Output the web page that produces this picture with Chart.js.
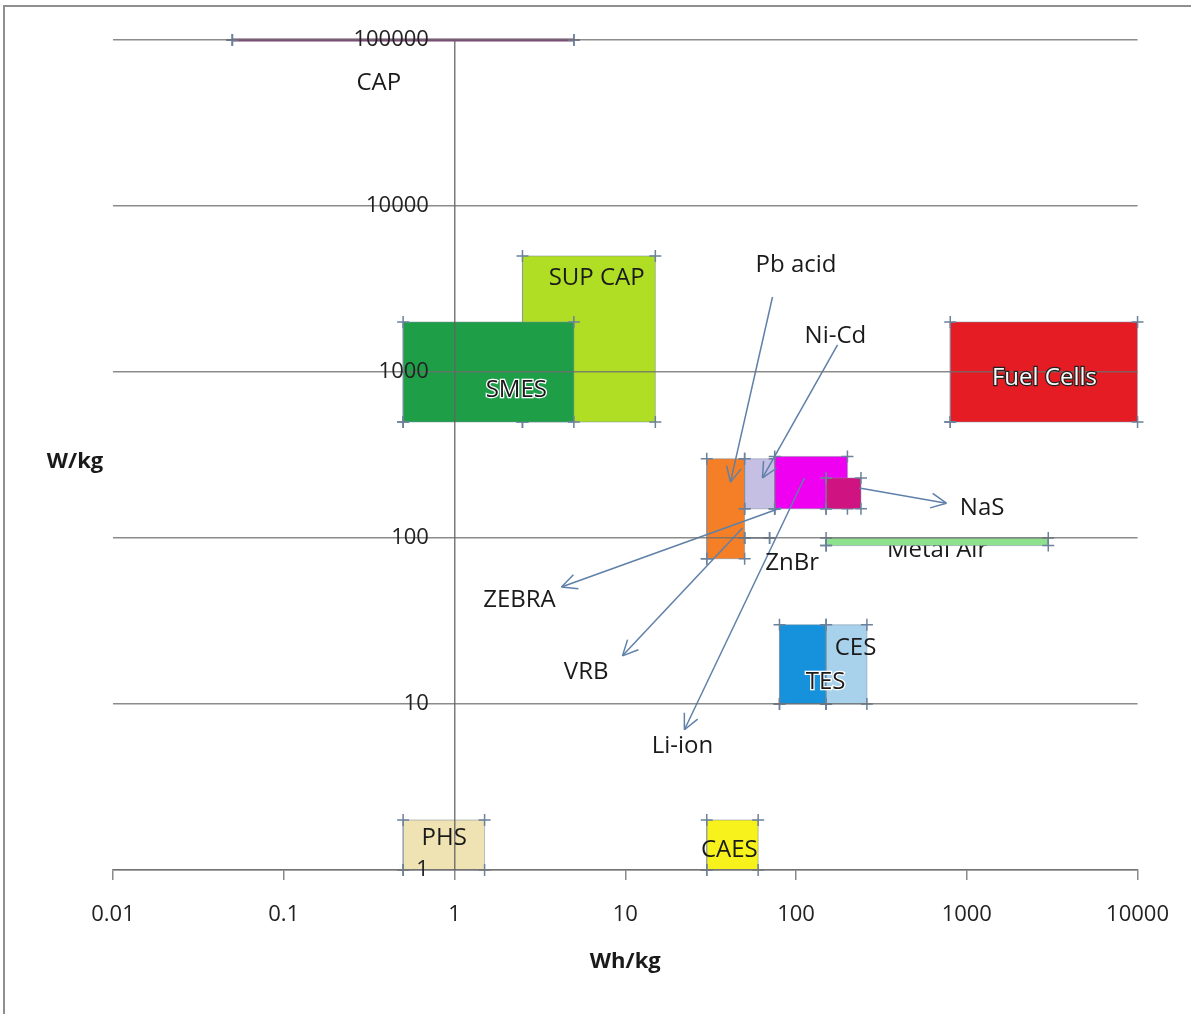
<!DOCTYPE html>
<html>
<head>
<meta charset="utf-8">
<title>Ragone chart</title>
<script src="https://cdn.jsdelivr.net/npm/chart.js@4.4.1/dist/chart.umd.min.js"></script>
<style>
  html, body { margin: 0; padding: 0; background: #fff; }
  .wrap { position: relative; width: 1191px; height: 1014px; overflow: hidden; }
  .frame {
    position: absolute; left: 3px; top: 5px; right: -6px; bottom: -6px;
    border-left: 2px solid #8f8f8f; border-top: 2px solid #8f8f8f;
    pointer-events: none;
  }
</style>
</head>
<body>
<div class="wrap">
  <canvas id="chart1"></canvas>
  <div class="frame"></div>
</div>
<script>
// Storage technologies: energy density (Wh/kg) against power density (W/kg)
const techNames = ['CAP', 'SUP CAP', 'SMES', 'Fuel Cells', 'Pb acid', 'Ni-Cd', 'Li-ion',
  'NaS', 'ZnBr', 'Metal Air', 'TES', 'CES', 'PHS', 'CAES'];
const energyLow = [0.05, 2.5, 0.5, 800, 30, 50, 75, 150, 50, 150, 80, 150, 0.5, 30];
const energyHigh = [5, 15, 5, 10000, 50, 75, 200, 240, 70, 3000, 150, 260, 1.5, 60];
const powerLow = [100000, 500, 500, 500, 75, 150, 150, 150, 100, 90, 10, 10, 1, 1];
const powerHigh = [100000, 5000, 2000, 2000, 300, 300, 310, 230, 100, 100, 30, 30, 2, 2];

const xTicks = [0.01, 0.1, 1, 10, 100, 1000, 10000];
const yTicks = [1, 10, 100, 1000, 10000, 100000];

// callout arrows (tail -> head), in Wh/kg, W/kg
const arrowNames = ['Pb acid', 'Ni-Cd', 'NaS', 'ZEBRA', 'VRB', 'Li-ion'];
const arrowTail = [[72.8, 2830], [175, 1455], [235, 200], [82, 152], [48.6, 115], [112, 230]];
const arrowHead = [[41.3, 217], [63.6, 230], [760, 162], [4.23, 50.7], [9.63, 19.5], [22.2, 7.0]];

// fill colours, same order as techNames
const fillColors = ['#7d3f76', '#b0de24', '#1f9e48', '#e61c24', '#f57f26', '#c6bfe4', '#f000f0',
  '#cf1380', '#7d8ea3', '#8ee28e', '#1692dc', '#a8d2ec', '#efe2b3', '#f7f21c'];

// where each name is written
const labelSpots = [
  { text: 'CAP', x: 0.36, y: 55000 },
  { text: 'SUP CAP', x: 6.8, y: 3700 },
  { text: 'SMES', x: 2.3, y: 780, halo: '#fff' },
  { text: 'Fuel Cells', x: 2850, y: 920, color: '#fafafa', halo: '#222' },
  { text: 'Pb acid', x: 100, y: 4400 },
  { text: 'Ni-Cd', x: 170, y: 1650 },
  { text: 'NaS', x: 1230, y: 152 },
  { text: 'Metal Air', x: 670, y: 85, behind: true },
  { text: 'ZnBr', x: 95, y: 71 },
  { text: 'ZEBRA', x: 2.4, y: 42 },
  { text: 'VRB', x: 5.9, y: 15.6 },
  { text: 'Li-ion', x: 21.6, y: 5.6 },
  { text: 'CES', x: 223, y: 21.7 },
  { text: 'TES', x: 149, y: 13.6, halo: '#fff' },
  { text: 'PHS', x: 0.87, y: 1.56 },
  { text: 'CAES', x: 40.7, y: 1.32 },
];

const boxSets = techNames.map((name, i) => {
  const flat = powerLow[i] === powerHigh[i];
  return {
    label: name,
    data: [
      { x: energyLow[i], y: powerLow[i] },
      { x: energyHigh[i], y: powerLow[i] },
      { x: energyHigh[i], y: powerHigh[i] },
      { x: energyLow[i], y: powerHigh[i] },
      { x: energyLow[i], y: powerLow[i] },
    ],
    showLine: true,
    fill: flat ? false : 'shape',
    backgroundColor: fillColors[i],
    borderColor: flat ? fillColors[i] : 'rgba(120,140,160,0.5)',
    borderWidth: flat ? (name === 'CAP' ? 3 : 1.5) : 1,
    pointStyle: 'cross',
    pointRadius: 6,
    pointBorderColor: '#6c819b',
    pointBorderWidth: 1.5,
    clip: false,
    order: 100 - i,
  };
});

const arrowSets = arrowNames.map((name, i) => ({
  label: name + ' arrow',
  data: [
    { x: arrowTail[i][0], y: arrowTail[i][1] },
    { x: arrowHead[i][0], y: arrowHead[i][1] },
  ],
  showLine: true,
  fill: false,
  borderColor: '#5f80a8',
  borderWidth: 1.5,
  pointRadius: 0,
  isArrow: true,
  order: 0,
}));

const labelFont = '24px "Open Sans", sans-serif';

function drawLabels(chart, behind) {
  const { ctx, scales } = chart;
  ctx.save();
  ctx.font = labelFont;
  ctx.textAlign = 'center';
  ctx.textBaseline = 'middle';
  labelSpots.filter(l => !!l.behind === behind).forEach(l => {
    const px = scales.x.getPixelForValue(l.x);
    const py = scales.y.getPixelForValue(l.y);
    if (l.halo) {
      ctx.lineWidth = 2.5;
      ctx.strokeStyle = l.halo;
      ctx.strokeText(l.text, px, py);
    }
    ctx.fillStyle = l.color || '#1a1a1a';
    ctx.fillText(l.text, px, py);
  });
  ctx.restore();
}

const annotate = {
  id: 'annotate',
  beforeDatasetsDraw(chart) {
    drawLabels(chart, true);
  },
  afterDraw(chart) {
    const ctx = chart.ctx;
    // arrow heads
    chart.data.datasets.forEach((ds, i) => {
      if (!ds.isArrow) return;
      const pts = chart.getDatasetMeta(i).data;
      const a = pts[0], b = pts[1];
      const ang = Math.atan2(b.y - a.y, b.x - a.x);
      ctx.save();
      ctx.strokeStyle = ds.borderColor;
      ctx.lineWidth = 1.5;
      ctx.beginPath();
      [-0.45, 0.45].forEach(d => {
        ctx.moveTo(b.x, b.y);
        ctx.lineTo(b.x - 17 * Math.cos(ang + d), b.y - 17 * Math.sin(ang + d));
      });
      ctx.stroke();
      ctx.restore();
    });
    drawLabels(chart, false);
    // vertical axis title
    const area = chart.chartArea;
    ctx.save();
    ctx.font = 'bold 22px "Open Sans", sans-serif';
    ctx.fillStyle = '#1a1a1a';
    ctx.textAlign = 'center';
    ctx.textBaseline = 'middle';
    ctx.fillText('W/kg', area.left - 38, (area.top + area.bottom) / 2 + 7);
    ctx.restore();
  },
};

var ctx = document.getElementById('chart1').getContext('2d');
var chart = new Chart(ctx, {
  type: 'scatter',
  data: {
    datasets: [...arrowSets, ...boxSets],
  },
  options: {
    responsive: true,
    maintainAspectRatio: false,
    animation: false,
    events: [],
    layout: {
      padding: { left: 113, right: 53, top: 40, bottom: 35 },
    },
    plugins: {
      legend: { display: false },
      tooltip: { enabled: false },
    },
    scales: {
      x: {
        type: 'logarithmic',
        min: 0.01,
        max: 10000,
        afterBuildTicks: axis => {
          axis.ticks = xTicks.map(v => ({ value: v }));
        },
        afterFit: axis => {
          axis.height = 109;
        },
        grid: {
          drawOnChartArea: false,
          drawTicks: true,
          tickLength: 10,
          color: '#8a8a8a',
          lineWidth: 1.5,
          z: 1,
        },
        border: { color: '#8a8a8a', width: 1.5, z: 1 },
        ticks: {
          padding: 22,
          color: '#222',
          font: { family: 'Open Sans', size: 22 },
          maxRotation: 0,
          callback: v => String(v),
        },
        title: {
          display: true,
          text: 'Wh/kg',
          color: '#1a1a1a',
          font: { family: 'Open Sans', size: 22, weight: 'bold' },
        },
      },
      y: {
        type: 'logarithmic',
        position: { x: 1 },
        min: 1,
        max: 100000,
        afterBuildTicks: axis => {
          axis.ticks = yTicks.map(v => ({ value: v }));
        },
        grid: {
          drawTicks: false,
          color: 'rgba(110,110,110,0.8)',
          lineWidth: 1.5,
          z: 1,
        },
        border: { color: 'rgba(100,100,100,0.85)', width: 1.5, z: 1 },
        ticks: {
          color: '#222',
          font: { family: 'Open Sans', size: 22 },
          z: 1,
          // axis placed at x = 1 ignores padding, so keep a gap with trailing spaces
          callback: v => String(v) + '\u2002\u2002\u2009',
        },
      },
    },
  },
  plugins: [annotate],
});
</script>
</body>
</html>
